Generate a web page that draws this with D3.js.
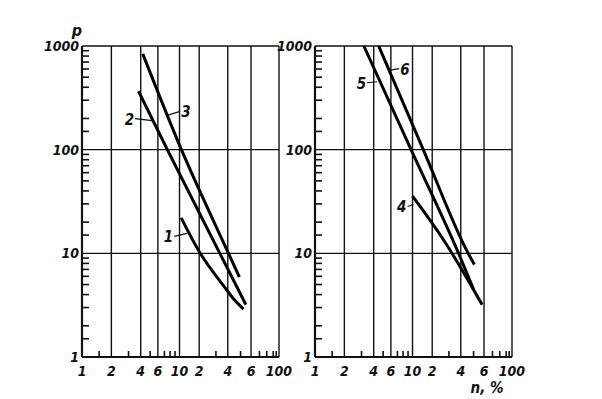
<!DOCTYPE html>
<html>
<head>
<meta charset="utf-8">
<script src="https://cdn.jsdelivr.net/npm/d3@7"></script>
<style>
  body { margin: 0; background: #fff; }
  svg { display: block; }
</style>
</head>
<body>
<div id="chart"></div>
<script>
///////////////////////////////////////////////////////////////////////////
// Data: [n %, p]
///////////////////////////////////////////////////////////////////////////
const curve1 = [[10.6, 22], [20.5, 10], [36.5, 4.8], [44.5, 3.6], [52.6, 2.9]];
const curve2 = [[3.8, 366], [7.5, 100], [33, 10], [54.8, 3.2]];
const curve3 = [[4.2, 840], [10.7, 100], [40.5, 10], [49, 5.9]];
const curve4 = [[10, 35.6], [27, 13], [58, 3.2]];
const curve5 = [[3.17, 1000], [9.66, 100], [37.9, 10], [50, 4.5]];
const curve6 = [[4.5, 1000], [14.6, 100], [45.5, 10], [50.7, 7.8]];

// numbered labels: point on the curve where the leader starts
const labels1 = [
  { text: "1", at: [13.1, 15.6], dx: -13, dy: 3 },
  { text: "2", at: [5.23, 191], dx: -17, dy: -2 },
  { text: "3", at: [7.47, 214], dx: 13, dy: -4 }
];
const labels2 = [
  { text: "4", at: [10.35, 29.6], dx: -6, dy: 2 },
  { text: "5", at: [4.33, 452], dx: -10, dy: 1 },
  { text: "6", at: [5.91, 584], dx: 9, dy: -1.5 }
];

// axes
const xGrid = [2, 4, 6, 10, 20, 40, 60];
const xTickVals = [1, 2, 4, 6, 10, 20, 40, 60, 100];
const xTickText = ["1", "2", "4", "6", "10", "2", "4", "6", "100"];
const xMinor = [1.5, 3, 5, 7, 8, 9, 30, 50, 70, 80, 90, 95];
const yGrid = [10, 100];
const yTickVals = [1, 10, 100, 1000];
const yMinorMult = [1.5, 2, 3, 4, 5, 6, 7, 8, 9];

///////////////////////////////////////////////////////////////////////////
// Set up the SVG
///////////////////////////////////////////////////////////////////////////
const W = 602, H = 399;
const top0 = 46, h = 311, w = 197;
const panelsX = [82, 315];

// the printed n-axis is not a clean log scale past 10: breakpoints
const xBreaks = [1, 10, 20, 40, 60, 100];
const xFrac = [0, 0.495, 0.595, 0.74, 0.858, 1];

const svg = d3.select("#chart").append("svg")
  .attr("width", W)
  .attr("height", H)
  .style("background-color", "#fff");

const x = d3.scaleLog().domain(xBreaks).range(xFrac.map(f => f * w));
const y = d3.scaleLog().domain([1, 1000]).range([h, 0]);

const font = "'Liberation Sans Narrow', 'DejaVu Sans Condensed', 'Liberation Sans', sans-serif";
const ink = "#111";

const line = d3.line()
  .x(d => x(d[0]))
  .y(d => y(d[1]))
  .curve(d3.curveMonotoneX);

function drawPanel(px, curves, labels) {
  const g = svg.append("g").attr("transform", `translate(${px},${top0})`);

  // grid
  g.selectAll("line.vg").data(xGrid).join("line")
    .attr("class", "vg")
    .attr("x1", d => x(d)).attr("x2", d => x(d))
    .attr("y1", 0).attr("y2", h)
    .attr("stroke", ink).attr("stroke-width", 1.4);
  g.selectAll("line.hg").data(yGrid).join("line")
    .attr("class", "hg")
    .attr("x1", 0).attr("x2", w)
    .attr("y1", d => y(d)).attr("y2", d => y(d))
    .attr("stroke", ink).attr("stroke-width", 1.4);

  // minor ticks, pointing inward
  const yMinor = [];
  [1, 10, 100].forEach(k => yMinorMult.forEach(m => yMinor.push(m * k)));
  g.selectAll("line.ym").data(yMinor).join("line")
    .attr("class", "ym")
    .attr("x1", 0).attr("x2", 7)
    .attr("y1", d => y(d)).attr("y2", d => y(d))
    .attr("stroke", ink).attr("stroke-width", 1.6);
  g.selectAll("line.xm").data(xMinor).join("line")
    .attr("class", "xm")
    .attr("x1", d => x(d)).attr("x2", d => x(d))
    .attr("y1", h).attr("y2", h - 6)
    .attr("stroke", ink).attr("stroke-width", 1.6);

  // frame
  g.append("line").attr("x1", 0).attr("x2", w).attr("y1", 0).attr("y2", 0)
    .attr("stroke", ink).attr("stroke-width", 1.4);
  g.append("line").attr("x1", w).attr("x2", w).attr("y1", 0).attr("y2", h)
    .attr("stroke", ink).attr("stroke-width", 1.4);
  g.append("line").attr("x1", 0).attr("x2", 0).attr("y1", 0).attr("y2", h)
    .attr("stroke", ink).attr("stroke-width", 2.2);
  g.append("line").attr("x1", 0).attr("x2", w).attr("y1", h).attr("y2", h)
    .attr("stroke", ink).attr("stroke-width", 2.2);

  // tick labels
  g.selectAll("text.xl").data(xTickVals).join("text")
    .attr("class", "xl")
    .attr("x", d => x(d))
    .attr("y", h + 19)
    .attr("text-anchor", "middle")
    .attr("font-family", font)
    .attr("font-style", "italic")
    .attr("font-weight", "bold")
    .attr("font-size", "14px")
    .attr("fill", ink)
    .text((d, i) => xTickText[i]);
  g.selectAll("text.yl").data(yTickVals).join("text")
    .attr("class", "yl")
    .attr("x", -3)
    .attr("y", d => y(d) + 5)
    .attr("text-anchor", "end")
    .attr("font-family", font)
    .attr("font-style", "italic")
    .attr("font-weight", "bold")
    .attr("font-size", "14px")
    .attr("fill", ink)
    .text(d => d);

  // curves
  g.selectAll("path.curve").data(curves).join("path")
    .attr("class", "curve")
    .attr("d", d => line(d))
    .attr("fill", "none")
    .attr("stroke", "#000")
    .attr("stroke-width", 3);

  // numbered labels with leaders
  labels.forEach(l => {
    const sx = x(l.at[0]), sy = y(l.at[1]);
    const ex = sx + l.dx, ey = sy + l.dy;
    g.append("line")
      .attr("x1", sx).attr("y1", sy).attr("x2", ex).attr("y2", ey)
      .attr("stroke", ink).attr("stroke-width", 1.2);
    g.append("text")
      .attr("x", l.dx < 0 ? ex - 1 : ex + 1)
      .attr("y", ey + 6)
      .attr("text-anchor", l.dx < 0 ? "end" : "start")
      .attr("font-family", font)
      .attr("font-style", "italic")
      .attr("font-weight", "bold")
      .attr("font-size", "15px")
      .attr("fill", ink)
      .text(l.text);
  });
  return g;
}

drawPanel(panelsX[0], [curve1, curve2, curve3], labels1);
drawPanel(panelsX[1], [curve4, curve5, curve6], labels2);

// axis titles
svg.append("text")
  .attr("x", panelsX[0] - 5)
  .attr("y", 36)
  .attr("text-anchor", "middle")
  .attr("font-family", font)
  .attr("font-style", "italic")
  .attr("font-weight", "bold")
  .attr("font-size", "16px")
  .attr("fill", ink)
  .text("p");

svg.append("text")
  .attr("x", 487)
  .attr("y", 393)
  .attr("text-anchor", "middle")
  .attr("font-family", font)
  .attr("font-style", "italic")
  .attr("font-weight", "bold")
  .attr("font-size", "15px")
  .attr("fill", ink)
  .text("n, %");
</script>
</body>
</html>
